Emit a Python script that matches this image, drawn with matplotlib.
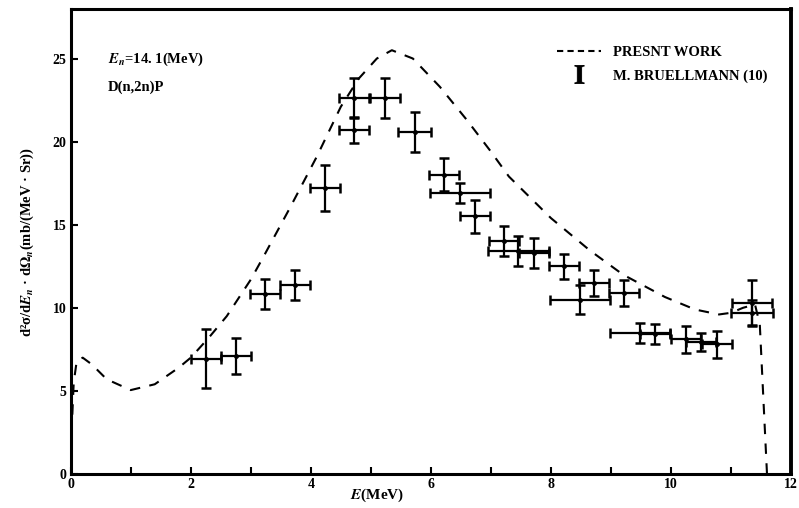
import matplotlib
matplotlib.use("Agg")
import matplotlib.pyplot as plt
from matplotlib.lines import Line2D

# Calculated curve (PRESNT WORK)
curve_e = [0, 0.02, 0.05, 0.1, 0.2, 0.35, 0.6, 1.0, 1.4, 1.8, 2.0, 2.3, 2.6, 3.0, 3.2,
           3.65, 4.1, 4.5, 4.8, 5.1, 5.35, 5.7, 6.15, 6.6, 7.0, 7.3, 8.0, 8.65, 9.2,
           9.9, 10.4, 10.8, 11.0, 11.2, 11.4, 11.48, 11.52, 11.56, 11.6]
curve_y = [0, 3.0, 5.5, 6.8, 7.0, 6.6, 5.7, 5.05, 5.4, 6.4, 7.0, 8.2, 9.5, 11.7, 13.0,
           16.0, 19.1, 22.1, 23.8, 25.0, 25.5, 25.0, 23.3, 21.3, 19.4, 17.9, 15.4, 13.45, 12.0,
           10.65, 9.9, 9.6, 9.7, 10.0, 10.2, 9.0, 6.0, 3.0, 0]

# Experimental data (M. BRUELLMANN)
exp_e    = [2.25, 2.75, 3.24, 3.74, 4.24, 4.72, 4.72, 5.23, 5.73, 6.22, 6.48, 6.73, 7.22,
            7.46, 7.72, 8.22, 8.48, 8.72, 9.22, 9.48, 9.74, 10.25, 10.5, 10.77, 11.35, 11.35]
exp_y    = [6.95, 7.1, 10.85, 11.35, 17.2, 22.6, 20.7, 22.6, 20.6, 18.0, 16.9, 15.5, 14.0,
            13.4, 13.3, 12.5, 10.5, 11.5, 10.9, 8.5, 8.45, 8.1, 7.95, 7.8, 10.3, 9.7]
exp_yerr = [1.8, 1.1, 0.9, 0.9, 1.4, 1.2, 0.8, 1.2, 1.2, 1.0, 0.6, 1.0, 0.9,
            0.9, 0.9, 0.75, 0.85, 0.8, 0.8, 0.6, 0.6, 0.8, 0.55, 0.8, 1.4, 0.75]
exp_xerr = [0.25, 0.25, 0.25, 0.25, 0.25, 0.25, 0.25, 0.25, 0.27, 0.25, 0.5, 0.25, 0.25,
            0.5, 0.25, 0.25, 0.5, 0.25, 0.25, 0.5, 0.25, 0.25, 0.25, 0.25, 0.33, 0.35]

x_ticks = [0, 1, 2, 3, 4, 5, 6, 7, 8, 9, 10, 11, 12]
x_labels = ["0", "", "2", "", "4", "", "6", "", "8", "", "10", "", "12"]
y_ticks = [0, 5, 10, 15, 20, 25]

plt.rcParams['font.family'] = ['Liberation Serif', 'DejaVu Serif']
plt.rcParams['font.weight'] = 'bold'
plt.rcParams['mathtext.fontset'] = 'stix'

fig = plt.figure(figsize=(7.99, 5.08), dpi=100)
ax = fig.add_axes([0.0885, 0.0669, 0.9015, 0.9144])

ax.plot(curve_e, curve_y, linestyle=(0, (5, 4.5)), color='black', linewidth=1.5)
ax.errorbar(exp_e, exp_y, yerr=exp_yerr, xerr=exp_xerr, fmt='o', color='black',
            markersize=2.5, elinewidth=1.6, capsize=3.5, capthick=1.8)

ax.set_xlim(0, 12)
ax.set_ylim(0, 27.95)
ax.set_xticks(x_ticks)
ax.set_xticklabels(x_labels)
ax.set_yticks(y_ticks)
ax.tick_params(direction='in', length=5, width=1.5, labelsize=10, pad=3)
for lab in ax.get_xticklabels() + ax.get_yticklabels():
    lab.set_fontweight('bold')
for side, sp in ax.spines.items():
    sp.set_linewidth(2.2 if side != 'right' else 2.8)

ax.set_xlabel(r"$E$(MeV)", fontsize=11, fontweight='bold')
ax.xaxis.set_label_coords(5.1 / 12, -0.028)
ax.set_ylabel("d²σ/d$E_n$ · d$\\Omega_n$(mb/(MeV · Sr))",
              fontsize=10.5, fontweight='bold', labelpad=12)

ax.text(0.052, 0.893, r"$E_n$=14. 1(MeV)", transform=ax.transAxes, fontsize=10.5,
        fontweight='bold', va='center')
ax.text(0.052, 0.833, "D(n,2n)P", transform=ax.transAxes, fontsize=10.5,
        fontweight='bold', va='center')

h1 = Line2D([], [], linestyle=(0, (3, 2)), color='black', linewidth=1.5)
h2 = Line2D([], [], linestyle='none', marker=r'$\mathrm{I}$', markersize=13,
            color='black', markeredgewidth=0.6)
leg = ax.legend([h1, h2], ["PRESNT WORK", "M. BRUELLMANN (10)"], loc='upper right',
                bbox_to_anchor=(0.985, 0.95), frameon=False, fontsize=10.5,
                handlelength=3.0, handletextpad=0.8, labelspacing=0.7)
for t in leg.get_texts():
    t.set_fontweight('bold')

fig.savefig("out.png", dpi=100)
